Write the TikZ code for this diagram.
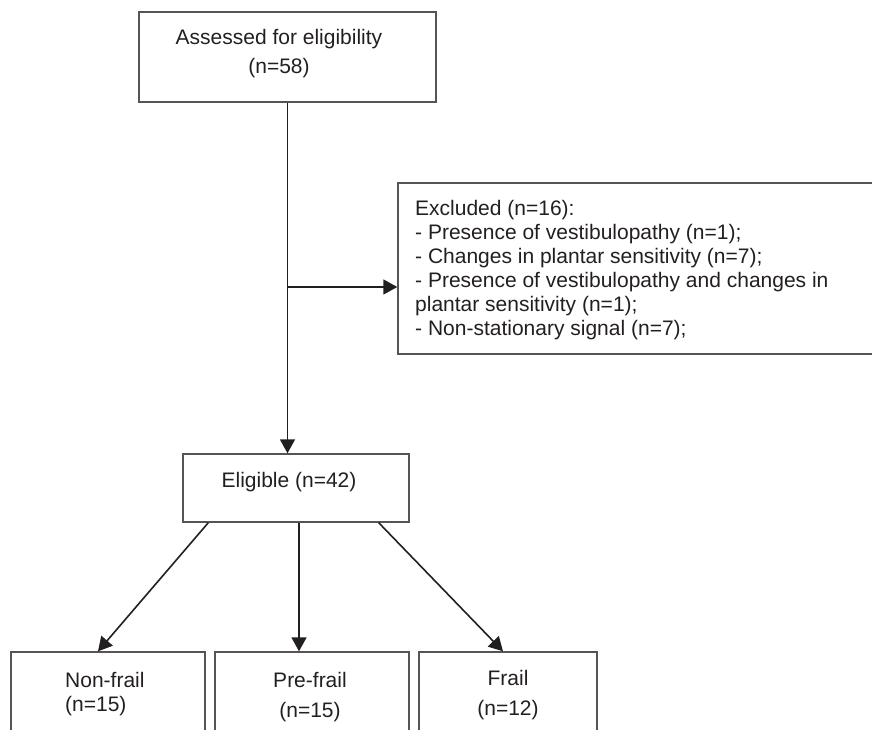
\documentclass[tikz,border=0pt]{standalone}
\usepackage{fontspec}
\setmainfont{Liberation Sans}
\usetikzlibrary{positioning,arrows.meta}
\definecolor{boxgray}{RGB}{85,85,85}
\definecolor{inkgray}{RGB}{35,31,32}

\begin{document}
\begin{tikzpicture}[x=1pt, y=-1pt,
    % box style
    flowbox/.style={rectangle, draw=boxgray, line width=1.4pt, inner sep=0pt},
    % text inside the boxes
    boxtext/.style={text=inkgray, font=\fontsize{21}{24}\selectfont, inner sep=0pt},
    % arrow style
    link/.style={draw=inkgray, line width=1.6pt, -{Triangle[length=14pt, width=15pt]}}
]
\useasboundingbox (0,0) rectangle (872,730);

% --- BOXES ---
\node[flowbox, minimum width=297pt, minimum height=90pt] (assess) at (287.5,57) {};
\node[flowbox, minimum width=476pt, minimum height=171pt] (excl) at (636,268.5) {};
\node[flowbox, minimum width=226pt, minimum height=68pt] (elig) at (296,488) {};

% bottom row (cut off by the page edge)
\node[flowbox, minimum width=194pt, minimum height=108pt] (nonfrail) at (108,706) {};
\node[flowbox, minimum width=194pt, minimum height=108pt] (prefrail) at (312,706) {};
\node[flowbox, minimum width=178pt, minimum height=108pt] (frail) at (508,706) {};

% --- TEXTS ---
\node[boxtext, align=center, anchor=north] (assesstxt) at (279,29) {Assessed for eligibility\\[5pt](n=58)};
\node[boxtext, align=left, anchor=north west] (excltxt) at (415,200) {Excluded (n=16):\\
- Presence of vestibulopathy (n=1);\\
- Changes in plantar sensitivity (n=7);\\
- Presence of vestibulopathy and changes in\\
plantar sensitivity (n=1);\\
- Non-stationary signal (n=7);};
\node[boxtext, anchor=base] (eligtxt) at (289,487) {Eligible (n=42)};
\node[boxtext, align=left, anchor=north west] (nonfrailtxt) at (65,672) {Non-frail\\ (n=15)};
\node[boxtext, align=center, anchor=north] (prefrailtxt) at (310,672) {Pre-frail\\[6pt](n=15)};
\node[boxtext, align=center, anchor=north] (frailtxt) at (508,670) {Frail\\[6pt](n=12)};

% --- CONNECTORS ---
\coordinate (split) at (287.5,287);
\draw[link] (assess.south) -- (assess.south |- elig.north);
\draw[link] (split) -- (split -| excl.west);
\draw[link] ([xshift=26pt]elig.south west) -- ([xshift=-10pt]nonfrail.north);
\draw[link] ([xshift=3pt]elig.south) -- ([xshift=3pt]elig.south |- prefrail.north);
\draw[link] ([xshift=-31pt]elig.south east) -- ([xshift=-5pt]frail.north);

\end{tikzpicture}
\end{document}
